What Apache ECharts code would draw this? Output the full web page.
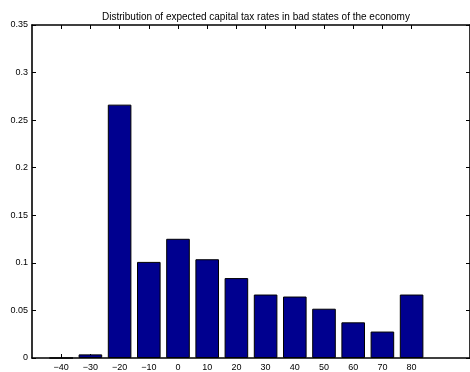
<!DOCTYPE html>
<html>
<head>
<meta charset="utf-8">
<script src="https://cdn.jsdelivr.net/npm/echarts@6/dist/echarts.min.js"></script>
<style>
    html, body { margin: 0; padding: 0; background: #fff; }
    #chart { width: 470px; height: 372px; }
</style>
</head>
<body>
<div id="chart"></div>
<script>
// tax rate bins (percent) and share of bad states in each bin
var taxRates = [-40, -30, -20, -10, 0, 10, 20, 30, 40, 50, 60, 70, 80];
var shares = [0, 0.0038, 0.2663, 0.101, 0.1253, 0.1038, 0.084, 0.0667, 0.0646, 0.0518, 0.0375, 0.0278, 0.0667];
var yTicks = [0, 0.05, 0.1, 0.15, 0.2, 0.25, 0.3, 0.35];

var font = 'Liberation Sans, Arial, sans-serif';

var barData = taxRates.map(function (x, i) {
    return [x, shares[i]];
});

var chart = echarts.init(document.getElementById('chart'));

var xCommon = {
    type: 'value',
    min: -50,
    max: 100,
    splitLine: {show: false},
    axisLine: {show: true, onZero: false, lineStyle: {color: '#000', width: 1.6}},
    axisTick: {show: true, inside: true, length: 4, customValues: taxRates, lineStyle: {color: '#000'}}
};

var yCommon = {
    type: 'value',
    min: 0,
    max: 0.35,
    interval: 0.05,
    splitLine: {show: false},
    axisLine: {show: true, onZero: false, lineStyle: {color: '#000', width: 1.6}},
    axisTick: {show: true, inside: true, length: 4, customValues: yTicks, lineStyle: {color: '#000'}}
};

var option = {
    animation: false,
    title: {
        text: 'Distribution of expected capital tax rates in bad states of the economy',
        left: 97,
        top: 7,
        textStyle: {fontFamily: font, fontSize: 10, fontWeight: 'normal', color: '#000'}
    },
    grid: {
        left: 32,
        top: 25,
        width: 442,
        height: 335
    },
    xAxis: [
        Object.assign({}, xCommon, {
            position: 'bottom',
            axisLabel: {
                customValues: taxRates,
                color: '#000',
                fontFamily: font,
                fontSize: 9,
                margin: 5,
                formatter: function (v) { return String(v).replace('-', '\u2212'); }
            }
        }),
        Object.assign({}, xCommon, {
            position: 'top',
            axisLabel: {show: false}
        })
    ],
    yAxis: [
        Object.assign({}, yCommon, {
            position: 'left',
            axisLabel: {
                customValues: yTicks,
                color: '#000',
                fontFamily: font,
                fontSize: 9,
                margin: 4,
                formatter: function (v) { return String(Math.round(v * 100) / 100); }
            }
        }),
        Object.assign({}, yCommon, {
            position: 'right',
            axisLabel: {show: false}
        })
    ],
    series: [{
        type: 'bar',
        xAxisIndex: 0,
        yAxisIndex: 0,
        data: barData,
        barWidth: 23.6,
        itemStyle: {color: '#00008f', borderColor: '#000', borderWidth: 1}
    }]
};

chart.setOption(option);
</script>
</body>
</html>
